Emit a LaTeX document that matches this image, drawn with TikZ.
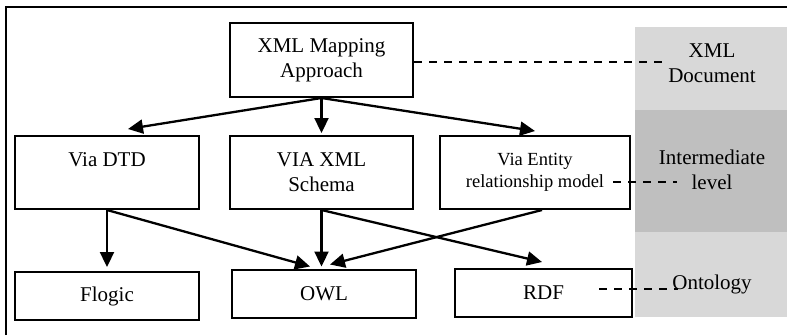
\documentclass[tikz,border=0pt]{standalone}
\usepackage{fontspec}
\setmainfont{Liberation Serif}
\usetikzlibrary{arrows.meta}
\definecolor{lightband}{RGB}{216,216,216}
\definecolor{darkband}{RGB}{191,191,191}
\begin{document}
\begin{tikzpicture}[x=1pt, y=-1pt, font=\fontsize{21}{25}\selectfont,
  box/.style = {draw, line width=2pt, minimum width=184pt, minimum height=73pt, align=center, inner sep=0pt},
  low/.style = {box, minimum height=48pt},
  arr/.style = {line width=2.3pt, -{Triangle[length=15pt,width=14pt]}},
  link/.style = {line width=2.4pt, dash pattern=on 8pt off 7pt}]
\useasboundingbox (0,0) rectangle (787,335);
% level bands
\fill[lightband] (635,27) rectangle (787,110);
\fill[darkband] (635,110) rectangle (787,232);
\fill[lightband] (635,232) rectangle (787,317);
\draw[line width=1.8pt] (6,335) -- (6,7) -- (787,7);
% boxes
\node[box, minimum width=183pt, minimum height=74pt] (map) at (321.5,60) {XML Mapping\\Approach};
\node[box] (dtd) at (107,172.5) {Via DTD\\\mbox{}};
\node[box, minimum width=183pt] (xsd) at (321.5,172.5) {VIA XML\\Schema};
\node[box, minimum width=190pt, font=\fontsize{18.5}{22}\selectfont] (erm) at (535,172.5) {Via Entity\\relationship model};
\node[low] (flogic) at (107,296) {Flogic};
\node[low] (owl) at (324,293.5) {OWL};
\node[low, minimum width=177pt] (rdf) at (543.5,293) {RDF};
% level labels
\node[align=center] (doc) at (712,63) {XML\\Document};
\node[align=center] (mid) at (712,170) {Intermediate\\level};
\node (onto) at (712,284) {Ontology};
\coordinate (docend) at (665,62);
\coordinate (midend) at (677,182);
\coordinate (ontoend) at (678,289);
% connectors
\draw[arr] (map.south) -- ([xshift=21pt,yshift=6pt]dtd.north);
\draw[arr] (map.south) -- ([yshift=2pt]xsd.north);
\draw[arr] (map.south) -- ([yshift=4pt]erm.north);
\draw[arr] (dtd.south) -- ([yshift=4pt]flogic.north);
\draw[arr] (dtd.south) -- ([xshift=-14pt,yshift=2pt]owl.north);
\draw[arr] (xsd.south) -- ([yshift=2pt]xsd.south |- owl.north);
\draw[arr] (xsd.south) -- ([xshift=-1.5pt,yshift=6pt]rdf.north);
\draw[arr] ([xshift=7pt]erm.south) -- ([xshift=6pt,yshift=4pt]owl.north);
\draw[link] (map.east |- docend) -- (docend);
\draw[link] ([xshift=-18pt]erm.east |- midend) -- (midend);
\draw[link] ([xshift=-34pt]rdf.east |- ontoend) -- (ontoend);
\end{tikzpicture}
\end{document}
